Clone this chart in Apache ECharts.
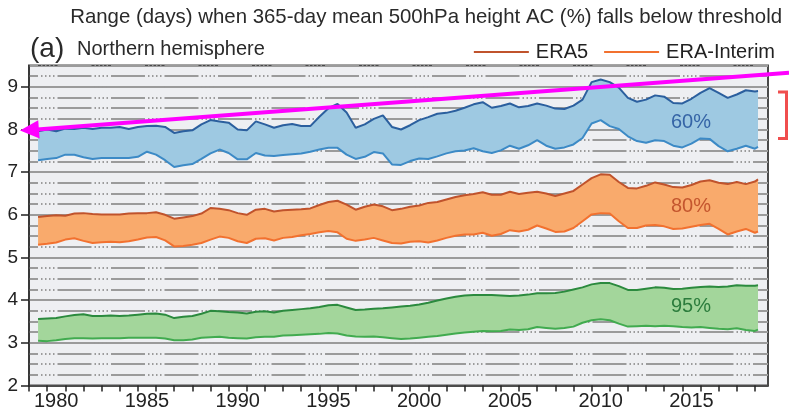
<!DOCTYPE html>
<html><head><meta charset="utf-8">
<script src="https://cdn.jsdelivr.net/npm/echarts@6/dist/echarts.min.js"></script>
<style>html,body{margin:0;padding:0;background:#fff}#c{width:789px;height:415px}</style>
</head><body><div id="c"></div><script>
// time axis samples (years)
const years = [
 1979.5,1980,1980.5,1981,1981.5,1982,1982.5,1983,1983.5,1984,
 1984.5,1985,1985.5,1986,1986.5,1987,1987.5,1988,1988.5,1989,
 1989.5,1990,1990.5,1991,1991.5,1992,1992.5,1993,1993.5,1994,
 1994.5,1995,1995.5,1996,1996.5,1997,1997.5,1998,1998.5,1999,
 1999.5,2000,2000.5,2001,2001.5,2002,2002.5,2003,2003.5,2004,
 2004.5,2005,2005.5,2006,2006.5,2007,2007.5,2008,2008.5,2009,
 2009.5,2010,2010.5,2011,2011.5,2012,2012.5,2013,2013.5,2014,
 2014.5,2015,2015.5,2016,2016.5,2017,2017.5,2018,2018.5,2019,
 2019.17];

// 60% threshold: ERA5 (upper) and ERA-Interim (lower)
const era5_60 = [
 7.96,8.00,7.96,8.02,8.01,8.04,8.01,8.04,8.04,8.06,
 8.01,8.06,8.08,8.09,8.06,7.92,7.96,7.98,8.12,8.22,
 8.19,8.16,8.00,7.98,8.19,8.12,8.04,8.10,8.13,8.08,
 8.08,8.30,8.50,8.60,8.40,8.04,8.12,8.25,8.33,8.06,
 8.00,8.10,8.22,8.29,8.37,8.39,8.44,8.51,8.59,8.64,
 8.51,8.55,8.61,8.52,8.55,8.61,8.56,8.49,8.48,8.56,
 8.70,9.11,9.17,9.11,8.98,8.74,8.65,8.70,8.80,8.77,
 8.62,8.61,8.72,8.86,8.97,8.86,8.74,8.82,8.92,8.89,
 8.90];
const erai_60 = [
 7.28,7.31,7.33,7.41,7.41,7.35,7.31,7.33,7.33,7.33,
 7.33,7.36,7.48,7.41,7.28,7.12,7.16,7.19,7.31,7.44,
 7.53,7.45,7.30,7.30,7.45,7.39,7.38,7.40,7.42,7.44,
 7.48,7.53,7.57,7.57,7.41,7.31,7.36,7.47,7.44,7.18,
 7.17,7.26,7.32,7.31,7.37,7.44,7.49,7.51,7.56,7.49,
 7.45,7.51,7.62,7.55,7.63,7.75,7.62,7.55,7.58,7.65,
 7.80,8.14,8.22,8.08,8.01,7.84,7.73,7.69,7.75,7.73,
 7.62,7.58,7.67,7.79,7.78,7.61,7.49,7.55,7.62,7.55,
 7.59];
// 80% threshold
const era5_80 = [
 5.95,5.97,5.99,5.98,6.03,6.04,6.02,6.01,6.01,6.01,
 6.03,6.04,6.04,6.06,6.00,5.91,5.94,5.97,6.03,6.16,
 6.14,6.11,6.04,6.00,6.12,6.14,6.08,6.11,6.12,6.13,
 6.15,6.23,6.30,6.33,6.24,6.12,6.19,6.24,6.20,6.11,
 6.14,6.19,6.22,6.28,6.30,6.36,6.42,6.46,6.49,6.53,
 6.47,6.47,6.54,6.49,6.52,6.54,6.50,6.44,6.50,6.56,
 6.71,6.86,6.95,6.94,6.77,6.63,6.62,6.68,6.76,6.71,
 6.65,6.64,6.70,6.78,6.81,6.75,6.72,6.77,6.72,6.78,
 6.83];
const erai_80 = [
 5.30,5.32,5.35,5.42,5.45,5.39,5.34,5.36,5.37,5.36,
 5.38,5.42,5.47,5.48,5.40,5.26,5.27,5.30,5.34,5.42,
 5.49,5.46,5.38,5.34,5.44,5.45,5.40,5.46,5.48,5.52,
 5.55,5.59,5.62,5.59,5.44,5.39,5.42,5.46,5.40,5.34,
 5.33,5.37,5.38,5.35,5.40,5.46,5.51,5.54,5.54,5.58,
 5.51,5.55,5.64,5.61,5.65,5.75,5.68,5.60,5.61,5.69,
 5.85,6.01,6.04,6.03,5.85,5.69,5.69,5.75,5.76,5.73,
 5.67,5.68,5.72,5.76,5.79,5.67,5.54,5.61,5.67,5.58,
 5.61];
// 95% threshold
const era5_95 = [
 3.56,3.57,3.58,3.62,3.65,3.67,3.63,3.63,3.64,3.63,
 3.64,3.66,3.68,3.69,3.66,3.58,3.61,3.63,3.68,3.75,
 3.74,3.72,3.71,3.69,3.73,3.74,3.71,3.75,3.77,3.79,
 3.81,3.84,3.88,3.89,3.83,3.77,3.78,3.80,3.81,3.83,
 3.85,3.87,3.90,3.94,3.99,4.04,4.08,4.11,4.12,4.12,
 4.12,4.11,4.10,4.11,4.13,4.16,4.16,4.17,4.20,4.25,
 4.30,4.37,4.40,4.40,4.33,4.24,4.24,4.27,4.30,4.29,
 4.26,4.27,4.29,4.31,4.32,4.31,4.32,4.35,4.34,4.34,
 4.35];
const erai_95 = [
 3.05,3.04,3.06,3.09,3.11,3.11,3.10,3.11,3.11,3.11,
 3.12,3.12,3.12,3.12,3.10,3.06,3.06,3.08,3.12,3.13,
 3.14,3.12,3.11,3.10,3.13,3.14,3.14,3.17,3.18,3.19,
 3.20,3.21,3.23,3.22,3.17,3.15,3.14,3.15,3.13,3.11,
 3.09,3.10,3.12,3.14,3.16,3.19,3.22,3.24,3.26,3.28,
 3.27,3.28,3.31,3.30,3.32,3.37,3.35,3.33,3.35,3.38,
 3.47,3.53,3.55,3.53,3.45,3.38,3.39,3.40,3.39,3.40,
 3.39,3.37,3.36,3.37,3.35,3.33,3.32,3.34,3.30,3.28,
 3.31];

// axis ticks / labels
const yTicks = [2,3,4,5,6,7,8,9];
const xLabelYears = [1980,1985,1990,1995,2000,2005,2010,2015];
const xTickYears = [];
for (let y = 1979; y <= 2019; y++) xTickYears.push(y);
const bandLabels = ['60%','80%','95%'];

const FONT = '"Liberation Sans", Arial, Helvetica, sans-serif';
const pairs = v => years.map((y,i)=>[y, v[i]]);

function band(key, upper, lower, fill, cUp, cLo, nameUp, nameLo){
  return [
    {name:key+' range', type:'custom', silent:true, z:2, clip:true,
     data:[[years[0], lower[0], upper[0]]],
     encode:{x:0, y:[1,2]},
     renderItem:function(params, api){
       const pts = [];
       for (let i=0;i<years.length;i++) pts.push(api.coord([years[i], upper[i]]));
       for (let i=years.length-1;i>=0;i--) pts.push(api.coord([years[i], lower[i]]));
       return {type:'polygon', shape:{points:pts}, style:{fill:fill, stroke:null}};
     }},
    {name:nameLo, type:'line', data:pairs(lower), symbol:'none', silent:true,
     lineStyle:{color:cLo, width:2}, itemStyle:{color:cLo}, z:4},
    {name:nameUp, type:'line', data:pairs(upper), symbol:'none', silent:true,
     lineStyle:{color:cUp, width:2}, itemStyle:{color:cUp}, z:5}
  ];
}

const series = [].concat(
  band('b60', era5_60, erai_60, '#9ec9e2', '#2b5f9e', '#3c8ac6', 'ERA5 60%', 'ERA-Interim 60%'),
  band('b80', era5_80, erai_80, '#f9aa6c', '#c0532c', '#f2712f', 'ERA5', 'ERA-Interim'),
  band('b95', era5_95, erai_95, '#a3d69b', '#2b8a3e', '#41ab4f', 'ERA5 95%', 'ERA-Interim 95%')
);

const chart = echarts.init(document.getElementById('c'), null, {renderer:'canvas'});
chart.setOption({
  animation:false,
  backgroundColor:'#ffffff',
  grid:{left:29, right:21, top:65.5, bottom:29.5, show:true, backgroundColor:'#eeeff2', borderColor:'#4a4a4a', borderWidth:2},
  legend:{data:['ERA5','ERA-Interim'], right:9, top:37, icon:'rect', itemWidth:55, itemHeight:2, itemGap:16,
          selectedMode:false, textStyle:{fontSize:20, color:'#222', fontFamily:FONT, padding:[0,0,0,2]}},
  xAxis:{type:'value', min:1979, max:2019.72,
    axisLine:{show:true, onZero:false, lineStyle:{color:'#333', width:1.5}},
    axisTick:{show:true, length:6, customValues:xTickYears, lineStyle:{color:'#222', width:1.5}},
    axisLabel:{customValues:xLabelYears.map(y=>y+0.5), formatter:v=>String(Math.floor(v)),
               fontSize:20, color:'#222', fontFamily:FONT, margin:6},
    splitLine:{show:false}},
  yAxis:[
    {type:'value', min:2, max:9.5, interval:1, position:'left',
     axisLine:{show:true, lineStyle:{color:'#333', width:1.5}},
     axisTick:{show:true, length:8, customValues:yTicks, lineStyle:{color:'#222', width:1.5}},
     axisLabel:{customValues:yTicks, fontSize:19, color:'#222', fontFamily:FONT, margin:11},
     splitLine:{show:true, lineStyle:{color:'#9b9b9b', width:2}}},
    {type:'value', min:2, max:9.5, interval:0.25, position:'left',
     axisLine:{show:false}, axisTick:{show:false}, axisLabel:{show:false},
     splitLine:{show:true, lineStyle:{color:'#9b9b9b', width:2, type:[34,3,1.5,2.5,1.5,2.5,1.5,2.5,1.5,3], dashOffset:25}}}
  ],
  series: series,
  graphic:[
    {type:'text', x:782, y:17.5, style:{text:'Range (days) when 365-day mean 500hPa height AC (%) falls below threshold',
      font:'20.4px '+FONT, fill:'#2a2a2a', align:'right', verticalAlign:'middle'}},
    {type:'text', x:30, y:49, style:{text:'(a)', font:'28px '+FONT, fill:'#2a2a2a', align:'left', verticalAlign:'middle'}},
    {type:'text', x:77, y:49, style:{text:'Northern hemisphere', font:'20px '+FONT, fill:'#2a2a2a', align:'left', verticalAlign:'middle'}},
    {type:'text', x:691, y:122.7, z:10, style:{text:bandLabels[0], font:'20px '+FONT, fill:'#3564a6', align:'center', verticalAlign:'middle'}},
    {type:'text', x:691, y:206, z:10, style:{text:bandLabels[1], font:'20px '+FONT, fill:'#c4562e', align:'center', verticalAlign:'middle'}},
    {type:'text', x:691, y:306.7, z:10, style:{text:bandLabels[2], font:'20px '+FONT, fill:'#2b7c3c', align:'center', verticalAlign:'middle'}},
    {type:'line', z:20, shape:{x1:37, y1:129.4, x2:789, y2:72.7}, style:{stroke:'#ff00ff', lineWidth:4}},
    {type:'polygon', z:20, shape:{points:[[20,130.6],[39.6,138.4],[38.2,120.2]]}, style:{fill:'#ff00ff'}},
    {type:'polyline', z:20, shape:{points:[[778,92],[786.5,92],[786.5,138.5],[778,138.5]]}, style:{stroke:'#f04e4e', lineWidth:3, fill:null}}
  ]
});
</script></body></html>
